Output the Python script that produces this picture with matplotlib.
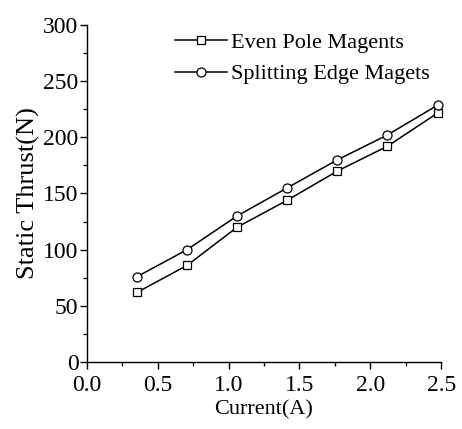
import numpy as np
import matplotlib.pyplot as plt
from matplotlib.ticker import MultipleLocator

# Data
current = [0.354, 0.707, 1.06, 1.414, 1.768, 2.12, 2.48]
even_pole = [62, 86, 120, 144, 170, 192, 222]
splitting_edge = [76, 100, 130, 155, 180, 202, 229]

plt.rcParams['font.family'] = ['Liberation Serif', 'DejaVu Serif']

fig = plt.figure(figsize=(4.62, 4.29), dpi=100)
ax = fig.add_axes([0.188, 0.156, 0.767, 0.786])

ax.plot(current, even_pole, color='black', lw=1.1, marker='s', ms=6,
        mfc='white', mec='black', mew=0.9, label='Even Pole Magents', clip_on=False)
ax.plot(current, splitting_edge, color='black', lw=1.1, marker='o', ms=6.5,
        mfc='white', mec='black', mew=0.9, label='Splitting Edge Magets', clip_on=False)

ax.set_xlim(0, 2.5)
ax.set_ylim(0, 300)
ax.xaxis.set_major_locator(MultipleLocator(0.5))
ax.xaxis.set_minor_locator(MultipleLocator(0.25))
ax.yaxis.set_major_locator(MultipleLocator(50))
ax.yaxis.set_minor_locator(MultipleLocator(25))
ax.xaxis.set_major_formatter(plt.FormatStrFormatter('%.1f'))

for s in ['top', 'right']:
    ax.spines[s].set_visible(False)
for s in ['left', 'bottom']:
    ax.spines[s].set_linewidth(1.0)

ax.tick_params(which='major', direction='out', length=5, width=1, labelsize=17, pad=1)
ax.tick_params(which='minor', direction='out', length=3, width=1)
ax.tick_params(axis='x', which='major', pad=4)

ax.set_xlabel('Current(A)', fontsize=16, labelpad=3)
ax.set_ylabel('Static Thrust(N)', fontsize=19, labelpad=2)

ax.legend(loc='upper left', bbox_to_anchor=(0.225, 1.005), frameon=False, fontsize=16,
          handlelength=2.3, handletextpad=0.2, labelspacing=0.5, borderaxespad=0)

fig.savefig('out.png', dpi=100)
